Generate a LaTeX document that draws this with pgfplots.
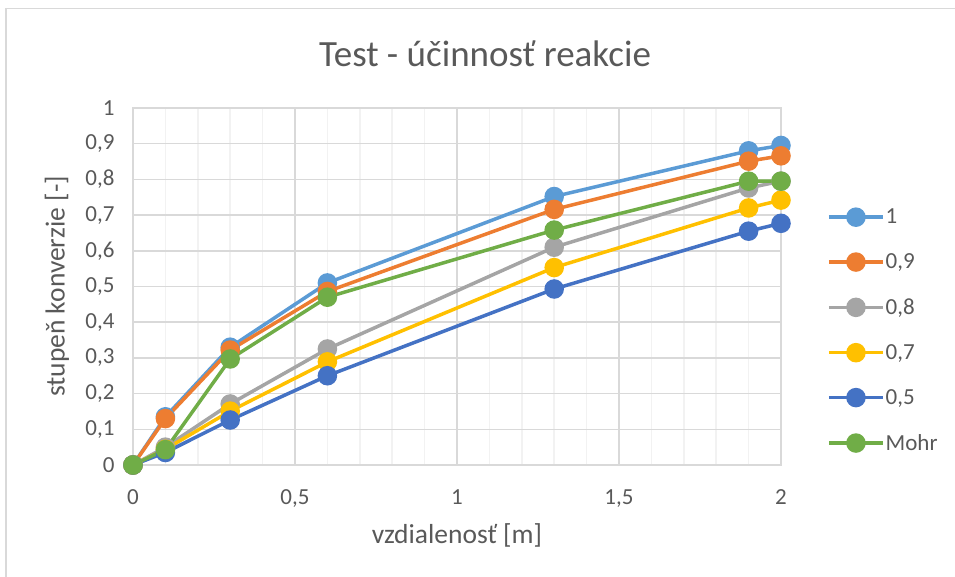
\documentclass[border=0pt]{standalone}
\usepackage{pgfplots}
\pgfplotsset{compat=1.18}
\usepackage{fontspec}
\setmainfont{Carlito}
\definecolor{txt}{HTML}{595959}
\definecolor{gridc}{HTML}{D9D9D9}
\definecolor{gridm}{HTML}{F2F2F2}
\definecolor{c1}{HTML}{5B9BD5}
\definecolor{c2}{HTML}{ED7D31}
\definecolor{c3}{HTML}{A5A5A5}
\definecolor{c4}{HTML}{FFC000}
\definecolor{c5}{HTML}{4472C4}
\definecolor{c6}{HTML}{70AD47}
\begin{document}
\begin{tikzpicture}[x=1pt,y=1pt]
\useasboundingbox (0,0) rectangle (955,577);
\draw[gridc, line width=1.2pt] (6,0) -- (6,568.5) -- (955,568.5);
\node[txt, font=\fontsize{37}{44}\selectfont, anchor=center] at (485,523) {Test - účinnosť reakcie};
\begin{axis}[
  at={(133pt,112pt)}, anchor=south west,
  scale only axis, width=648pt, height=357pt,
  xmin=0, xmax=2, ymin=0, ymax=1,
  xtick={0,0.5,1,1.5,2}, ytick={0,0.1,...,1.01},
  minor x tick num=4,
  major tick length=0pt, minor tick length=0pt,
  grid=both,
  xmajorgrids=true, ymajorgrids=true, xminorgrids=true, yminorgrids=false,
  major grid style={gridc, line width=1.5pt},
  minor grid style={gridm, line width=1.5pt},
  axis line style={gridc, line width=1.5pt},
  /pgf/number format/assume math mode=true,
  /pgf/number format/use comma,
  ticklabel style={txt, font=\fontsize{23}{27}\selectfont},
  yticklabel style={xshift=-15pt},
  xticklabel style={yshift=-21pt},
  xlabel={vzdialenosť [m]}, ylabel={stupeň konverzie [-]},
  label style={txt, font=\fontsize{27.5}{32}\selectfont},
  xlabel style={at={(axis description cs:0.5,-0.196)}, anchor=center},
  ylabel style={at={(axis description cs:-0.1173,0.5)}, anchor=center},
  every axis plot/.append style={line width=3.5pt, mark=*, mark size=8pt},
  legend style={draw=none, fill=none, at={(axis description cs:1,0.377)}, anchor=west, xshift=46pt,
    font=\fontsize{23}{27}\selectfont, text=txt, row sep=26.5pt, inner sep=0pt,
    nodes={inner sep=1pt}},
  legend cell align=left,
  legend image code/.code={\draw[#1, mark repeat=2, mark phase=2, line width=3.5pt, mark size=8pt] plot coordinates {(0pt,0pt) (27pt,0pt) (54pt,0pt)};},
]
\addplot[c1, mark options={fill=c1, draw=c1}] coordinates {(0,0) (0.1,0.135) (0.3,0.33) (0.6,0.51) (1.3,0.752) (1.9,0.88) (2,0.895)};
\addlegendentry{1}
\addplot[c2, mark options={fill=c2, draw=c2}] coordinates {(0,0) (0.1,0.13) (0.3,0.322) (0.6,0.486) (1.3,0.716) (1.9,0.851) (2,0.866)};
\addlegendentry{0,9}
\addplot[c3, mark options={fill=c3, draw=c3}] coordinates {(0,0) (0.1,0.05) (0.3,0.171) (0.6,0.325) (1.3,0.61) (1.9,0.776) (2,0.795)};
\addlegendentry{0,8}
\addplot[c4, mark options={fill=c4, draw=c4}] coordinates {(0,0) (0.1,0.044) (0.3,0.151) (0.6,0.289) (1.3,0.553) (1.9,0.72) (2,0.742)};
\addlegendentry{0,7}
\addplot[c5, mark options={fill=c5, draw=c5}] coordinates {(0,0) (0.1,0.035) (0.3,0.126) (0.6,0.25) (1.3,0.493) (1.9,0.655) (2,0.677)};
\addlegendentry{0,5}
\addplot[c6, mark options={fill=c6, draw=c6}] coordinates {(0,0) (0.1,0.043) (0.3,0.297) (0.6,0.47) (1.3,0.658) (1.9,0.795) (2,0.795)};
\addlegendentry{Mohr}
\end{axis}
\end{tikzpicture}
\end{document}
